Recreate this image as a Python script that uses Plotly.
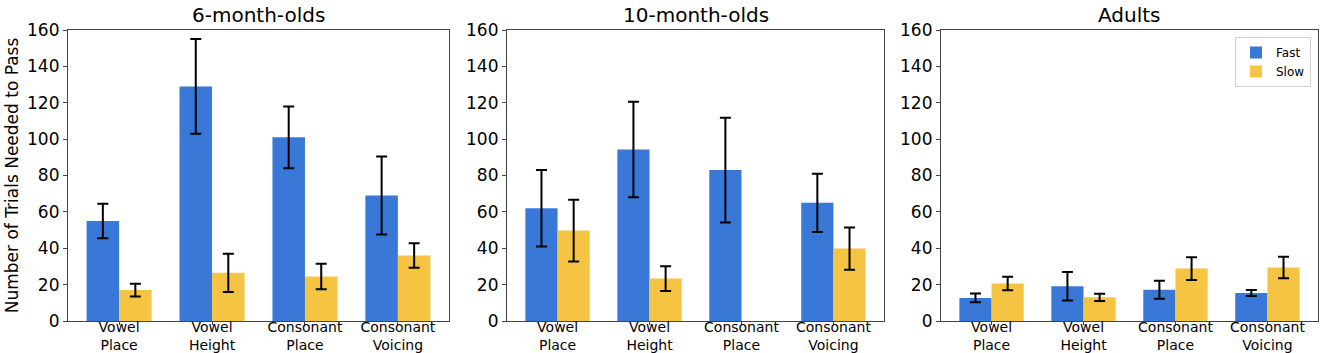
import plotly.graph_objects as go

categories = ["Vowel<br>Place", "Vowel<br>Height", "Consonant<br>Place", "Consonant<br>Voicing"]
panels = ["6-month-olds", "10-month-olds", "Adults"]

fast_6 = [55, 129, 101, 69]
fast_6_err = [9.5, 26, 17, 21.5]
slow_6 = [17, 26.5, 24.5, 36]
slow_6_err = [3.5, 10.5, 7, 6.7]

fast_10 = [62, 94.3, 83, 65]
fast_10_err = [21, 26.3, 28.8, 16]
slow_10 = [49.7, 23.3, None, 39.8]
slow_10_err = [17, 6.8, None, 11.6]

fast_ad = [12.7, 19.1, 17.2, 15.4]
fast_ad_err = [2.4, 7.8, 4.9, 1.6]
slow_ad = [20.6, 13, 28.8, 29.4]
slow_ad_err = [3.7, 2, 6.2, 5.9]

yticks = [0, 20, 40, 60, 80, 100, 120, 140, 160]

BLUE = "#3A78D8"
YELLOW = "#F6C443"
FONT = "DejaVu Sans"

data = [
    (fast_6, fast_6_err, slow_6, slow_6_err),
    (fast_10, fast_10_err, slow_10, slow_10_err),
    (fast_ad, fast_ad_err, slow_ad, slow_ad_err),
]

W, H = 1325, 353
xdomains = [[68 / W, 449 / W], [507 / W, 884 / W], [941 / W, 1318 / W]]
ydomain = [1 - 321 / H, 1 - 30 / H]

fig = go.Figure()
for i, (f, fe, s, se) in enumerate(data):
    xa = "x" if i == 0 else f"x{i+1}"
    ya = "y" if i == 0 else f"y{i+1}"
    fig.add_trace(go.Bar(
        x=categories, y=f, name="Fast", marker=dict(color=BLUE, line=dict(width=0)),
        error_y=dict(type="data", array=fe, color="black", thickness=2, width=5.5),
        xaxis=xa, yaxis=ya, showlegend=(i == 2), offsetgroup="fast", legendgroup="fast",
    ))
    fig.add_trace(go.Bar(
        x=categories, y=s, name="Slow", marker=dict(color=YELLOW, line=dict(width=0)),
        error_y=dict(type="data", array=se, color="black", thickness=2, width=5.5),
        xaxis=xa, yaxis=ya, showlegend=(i == 2), offsetgroup="slow", legendgroup="slow",
    ))

layout = dict(
    width=W, height=H, autosize=False,
    margin=dict(l=0, r=0, t=0, b=0, pad=0, autoexpand=False),
    paper_bgcolor="white", plot_bgcolor="white",
    barmode="group", bargap=0.3, bargroupgap=0,
    font=dict(family=FONT, color="black"),
    legend=dict(x=1311 / W, y=1 - 37 / H, xanchor="right", yanchor="top",
                bgcolor="white", bordercolor="#d0d0d0", borderwidth=1,
                font=dict(size=12, family=FONT),
                tracegroupgap=0),
)
for i in range(3):
    sfx = "" if i == 0 else str(i + 1)
    layout[f"xaxis{sfx}"] = dict(
        domain=xdomains[i], anchor=f"y{sfx}", range=[-0.55, 3.55], automargin=False,
        showline=True, linecolor="#444", linewidth=1.2, mirror=True,
        ticks="outside", ticklen=3, tickcolor="#444", ticklabelstandoff=-10,
        tickfont=dict(size=14, family=FONT), showgrid=False,
    )
    layout[f"yaxis{sfx}"] = dict(
        domain=ydomain, anchor=f"x{sfx}", range=[0, 160], automargin=False,
        tickvals=yticks, ticktext=[str(v) for v in yticks],
        showline=True, linecolor="#444", linewidth=1.2, mirror=True,
        ticks="outside", ticklen=4, tickcolor="#444",
        tickfont=dict(size=17, family=FONT), showgrid=False, zeroline=False,
    )
layout["yaxis"]["title"] = dict(text="Number of Trials Needed to Pass",
                                font=dict(size=17, family=FONT), standoff=4)
fig.update_layout(**layout)

for i, t in enumerate(panels):
    fig.add_annotation(text=t, x=(xdomains[i][0] + xdomains[i][1]) / 2, y=1 - 15 / H,
                       xref="paper", yref="paper", showarrow=False,
                       font=dict(size=20, family=FONT), xanchor="center", yanchor="middle")

fig.write_html("out.html", config={"displayModeBar": False},
               post_script="document.body.style.margin='0';document.body.style.overflow='hidden';")
